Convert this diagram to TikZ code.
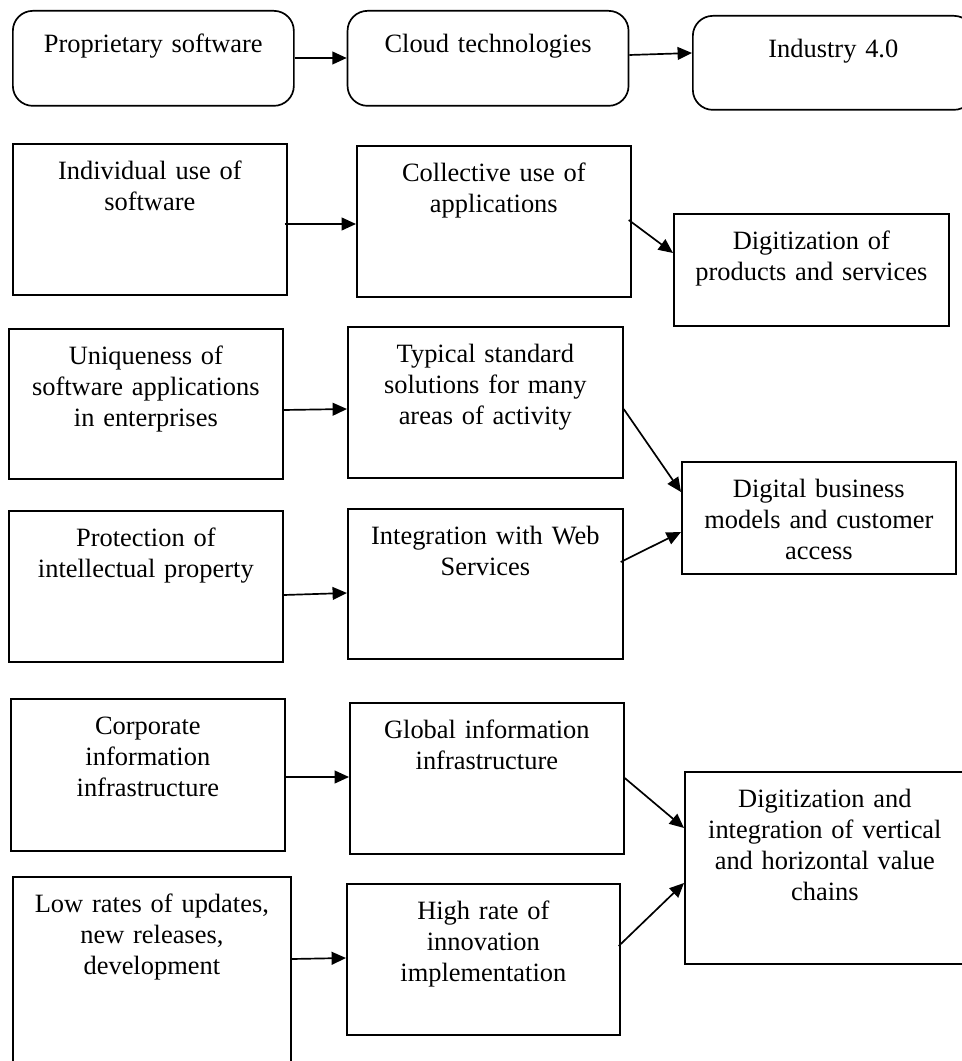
\documentclass[tikz,border=0pt]{standalone}
\usepackage{fontspec}
\setmainfont{Liberation Serif}
\usetikzlibrary{calc,positioning,arrows.meta}

\begin{document}
\begin{tikzpicture}[x=0.25mm,y=-0.25mm]
\tikzstyle{every node}=[font=\fontsize{18.8}{22}\selectfont]
\tikzstyle{block}=[draw,line width=1.2pt,align=center,inner sep=0pt,anchor=north west,text height=9mm]
\tikzstyle{stage}=[block,rounded corners=5mm,text width=70.25mm,text height=10.5mm,text depth=13.25mm]
\tikzstyle{link}=[line width=1.2pt,-{Triangle[length=3.6mm,width=3.2mm]}]

\useasboundingbox (0,0) rectangle (961,1061);

% top row
\node[stage] (prop) at (12,10) {Proprietary software};
\node[stage,right=13mm of prop] (cloud) {Cloud technologies};
\node[stage,text depth=13mm] (ind) at (692,15) {Industry 4.0};

% use of software
\node[block,text width=68.5mm,text depth=28.75mm] (indiv) at (12,143) {Individual use of\\software};
\node[block,text width=68.5mm,text depth=28.75mm] (coll) at (356,145) {Collective use of\\applications};
\node[block,text width=68.75mm,text depth=19mm] (prod) at (673,213) {Digitization of\\products and services};

% business models
\node[block,text width=68.5mm,text depth=28.5mm] (uniq) at (8,328) {Uniqueness of\\software applications\\in enterprises};
\node[block,text width=68.75mm,text depth=28.75mm] (typ) at (347,326) {Typical standard\\solutions for many\\areas of activity};
\node[block,text width=68.5mm,text depth=19mm] (biz) at (681,461) {Digital business\\models and customer\\access};
\node[block,text width=68.5mm,text depth=28.75mm] (ip) at (8,510) {Protection of\\intellectual property};
\node[block,text width=68.75mm,text depth=28.5mm] (web) at (347,508) {Integration with Web\\Services};

% value chains
\node[block,text width=68.5mm,text depth=29mm] (corp) at (10,698) {Corporate\\information\\infrastructure};
\node[block,text width=68.5mm,text depth=28.75mm] (glob) at (349,702) {Global information\\infrastructure};
\node[block,text width=70mm,text depth=39mm] (chain) at (684,771) {Digitization and\\integration of vertical\\and horizontal value\\chains};
\node[block,text width=69.5mm,text depth=50mm] (low) at (12,876) {Low rates of updates,\\new releases,\\development};
\node[block,text width=68.25mm,text depth=28.75mm] (high) at (346,883) {High rate of\\innovation\\implementation};

\draw[link] ($(prop.north east)+(0,48)$) -- ($(cloud.north west)+(0,48)$);
\draw[link] ($(cloud.north east)+(0,45)$) -- ($(ind.north west)+(0,38)$);
\draw[link] ($(indiv.north east)+(-3,81)$) -- ($(coll.north west)+(0,79)$);
\draw[link] ($(coll.north east)+(-3,75)$) -- ($(prod.north west)+(0,40)$);
\draw[link] ($(uniq.north east)+(0,82)$) -- ($(typ.north west)+(0,83)$);
\draw[link] ($(typ.north east)+(0,83)$) -- ($(biz.north west)+(0,31)$);
\draw[link] ($(ip.north east)+(0,85)$) -- ($(web.north west)+(0,85)$);
\draw[link] ($(web.north east)+(-3,54)$) -- ($(biz.north west)+(0,71)$);
\draw[link] ($(corp.north east)+(0,79)$) -- ($(glob.north west)+(0,75)$);
\draw[link] ($(glob.north east)+(0,76)$) -- ($(chain.north west)+(0,57)$);
\draw[link] ($(low.north east)+(0,83)$) -- ($(high.north west)+(0,75)$);
\draw[link] ($(high.north east)+(-2,63)$) -- ($(chain.north west)+(0,112)$);
\end{tikzpicture}
\end{document}
